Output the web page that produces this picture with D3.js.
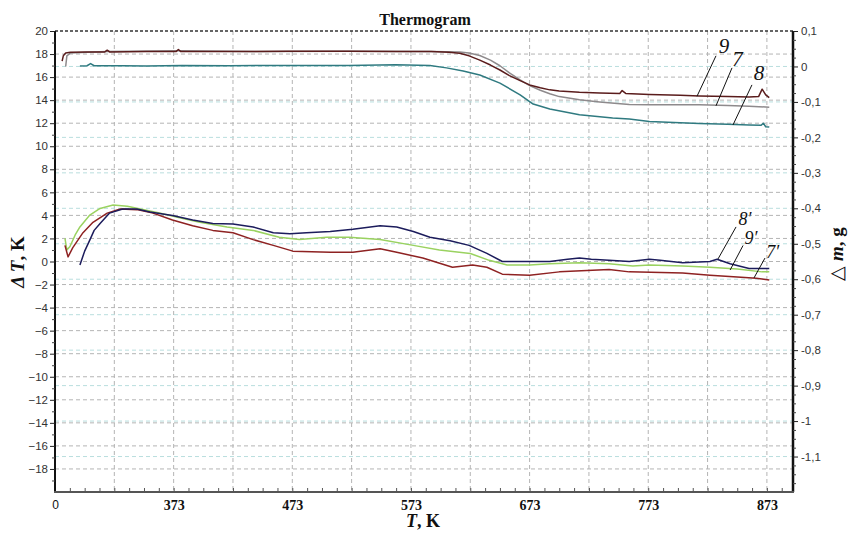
<!DOCTYPE html>
<html><head><meta charset="utf-8">
<script src="https://cdn.jsdelivr.net/npm/d3@7"></script>
<style>body{margin:0;background:#fff}svg{display:block}</style>
</head><body>
<svg id="chart" width="851" height="534"></svg>
<script>
// ---------- DATA ----------
const title = "Thermogram";
const xTickValues = [273, 373, 473, 573, 673, 773, 873];
const xTickLabels = ["0", "373", "473", "573", "673", "773", "873"];
const leftTickValues = [20, 18, 16, 14, 12, 10, 8, 6, 4, 2, 0, -2, -4, -6, -8, -10, -12, -14, -16, -18];
const rightTickValues = [0.1, 0, -0.1, -0.2, -0.3, -0.4, -0.5, -0.6, -0.7, -0.8, -0.9, -1, -1.1];

// mass curves (T, K ; Δm, g) — right axis
const mass9 = [[279,0.015],[280,0.030],[282,0.038],[286,0.040],[300,0.041],[315,0.041],[317,0.046],[319,0.041],[350,0.042],[375,0.042],[377,0.048],[379,0.042],[420,0.042],[470,0.043],[520,0.043],[560,0.042],[590,0.042],[605,0.040],[614,0.037],[622,0.030],[631,0.018],[640,0.004],[648,-0.010],[656,-0.026],[665,-0.040],[673,-0.052],[682,-0.060],[690,-0.066],[698,-0.069],[715,-0.073],[732,-0.075],[749,-0.076],[751,-0.068],[754,-0.076],[774,-0.079],[800,-0.081],[816,-0.083],[840,-0.085],[858,-0.086],[866,-0.085],[869,-0.064],[872,-0.080],[875,-0.088]];
const mass7 = [[282,0.000],[283,0.030],[286,0.038],[300,0.040],[317,0.042],[377,0.044],[450,0.042],[520,0.043],[590,0.042],[614,0.041],[622,0.038],[631,0.031],[640,0.018],[648,0.002],[656,-0.018],[665,-0.038],[673,-0.054],[682,-0.067],[690,-0.077],[698,-0.085],[715,-0.094],[732,-0.100],[757,-0.107],[774,-0.108],[800,-0.108],[816,-0.108],[840,-0.110],[858,-0.112],[875,-0.115]];
const mass8 = [[294,0.001],[300,0.002],[303,0.008],[306,0.002],[330,0.002],[350,0.001],[380,0.003],[420,0.002],[470,0.003],[520,0.003],[560,0.005],[589,0.003],[603,-0.004],[617,-0.013],[631,-0.024],[648,-0.047],[665,-0.080],[676,-0.106],[690,-0.120],[715,-0.136],[743,-0.145],[757,-0.148],[774,-0.155],[800,-0.159],[816,-0.161],[840,-0.163],[858,-0.165],[868,-0.166],[870,-0.160],[872,-0.170],[875,-0.171]];

// DTA curves (T, K ; ΔT, K) — left axis
const dta8 = [[294,-0.3],[298,0.9],[302.5,1.9],[306,2.7],[311,3.3],[319,4.2],[330,4.55],[342,4.55],[353,4.3],[372,4.0],[389,3.6],[406,3.3],[423,3.25],[440,3.0],[457,2.5],[471,2.4],[485,2.5],[505,2.6],[524,2.8],[547,3.1],[561,3.0],[575,2.6],[589,2.1],[606,1.8],[622,1.4],[637,0.7],[650,0.0],[660,0.0],[690,0.0],[705,0.2],[715,0.3],[725,0.2],[740,0.1],[757,0.0],[774,0.2],[783,0.1],[802,-0.1],[825,0.0],[831,0.2],[842,-0.2],[858,-0.6],[875,-0.6]];
const dta9 = [[281.4,2.0],[283,1.0],[285.6,1.3],[290,2.3],[294,3.0],[302,4.0],[311,4.6],[322,4.9],[334,4.8],[345,4.55],[361,4.2],[378,3.8],[395,3.4],[418,3.0],[440,2.7],[462,2.1],[479,1.9],[502,2.1],[521,2.1],[547,1.9],[575,1.4],[597,1.0],[623,0.7],[639,0.1],[654,-0.3],[673,-0.3],[690,-0.2],[715,-0.1],[740,-0.2],[760,-0.4],[774,-0.3],[802,-0.4],[825,-0.5],[848,-0.65],[869,-0.9],[875,-0.9]];
const dta7 = [[281.4,1.4],[284,0.4],[288,1.2],[296.6,2.5],[305,3.4],[317,4.2],[328,4.55],[342,4.5],[355.6,4.2],[372,3.6],[389,3.1],[406,2.7],[423,2.5],[440,1.9],[457,1.4],[473.5,0.9],[505,0.8],[524,0.8],[547,1.1],[561,0.8],[583,0.3],[608,-0.5],[625,-0.3],[637,-0.5],[650,-1.1],[673,-1.2],[698,-0.9],[740,-0.7],[757,-0.9],[802,-1.0],[825,-1.2],[848,-1.35],[864,-1.45],[875,-1.6]];

// curve labels: text, label point, leader start, leader end (data units)
const massLabels = [
  {text:"9", at:[836.8,0.038], from:[830.1,0.030], to:[814.1,-0.084]},
  {text:"7", at:[848.2,0.000], from:[843.6,-0.004], to:[830.1,-0.111]},
  {text:"8", at:[866.3,-0.038], from:[860.4,-0.052], to:[844.4,-0.165]}
];
const dtaLabels = [
  {text:"8\u2032", at:[854.5,3.15], from:[847,3.0], to:[831.8,0.22]},
  {text:"9\u2032", at:[859.6,1.55], from:[852.9,1.39], to:[842,-0.74]},
  {text:"7\u2032", at:[878,0.30], from:[871.4,0.30], to:[862.1,-1.43]}
];

// ---------- CHART ----------
const svg = d3.select("#chart");
const L = 55, R = 793, T = 31, B = 492;
const x = d3.scaleLinear().domain([273, 895]).range([L, R]);
const yL = d3.scaleLinear().domain([-20, 20]).range([B, T]);
const yR = d3.scaleLinear().domain([-1.2, 0.1]).range([B, T]);
const sans = "'Liberation Sans', Arial, sans-serif";
const serif = "'Liberation Serif', 'Times New Roman', serif";

const grid = svg.append("g");
d3.range(323, 895, 50).forEach(v => {
  grid.append("line").attr("x1", x(v)).attr("x2", x(v)).attr("y1", T).attr("y2", B)
    .attr("stroke", "#b4b4b4").attr("stroke-width", 1).attr("stroke-dasharray", "4,3");
});
rightTickValues.filter(v => v < 0.1).forEach(v => {
  grid.append("line").attr("x1", L).attr("x2", R).attr("y1", yR(v)).attr("y2", yR(v))
    .attr("stroke", "#b9dede").attr("stroke-width", 1).attr("stroke-dasharray", "4,3");
});
leftTickValues.filter(v => v < 20).forEach(v => {
  grid.append("line").attr("x1", L).attr("x2", R).attr("y1", yL(v)).attr("y2", yL(v))
    .attr("stroke", "#b4b4b4").attr("stroke-width", 1).attr("stroke-dasharray", "4,3");
});
grid.append("line").attr("x1", L).attr("x2", R).attr("y1", T).attr("y2", T)
  .attr("stroke", "#333").attr("stroke-width", 1.5).attr("stroke-dasharray", "3,2");

// curves
const lineL = d3.line().x(d => x(d[0])).y(d => yL(d[1]));
const lineR = d3.line().x(d => x(d[0])).y(d => yR(d[1]));
const curves = svg.append("g").attr("fill", "none").attr("stroke-linejoin", "round");
curves.append("path").datum(mass7).attr("d", lineR).attr("stroke", "#8e8a8c").attr("stroke-width", 1.5);
curves.append("path").datum(mass9).attr("d", lineR).attr("stroke", "#5a1c1c").attr("stroke-width", 1.5);
curves.append("path").datum(mass8).attr("d", lineR).attr("stroke", "#2f7a80").attr("stroke-width", 1.5);
curves.append("path").datum(dta9).attr("d", lineL).attr("stroke", "#9ad260").attr("stroke-width", 1.5);
curves.append("path").datum(dta7).attr("d", lineL).attr("stroke", "#8e2222").attr("stroke-width", 1.5);
curves.append("path").datum(dta8).attr("d", lineL).attr("stroke", "#1c1c5c").attr("stroke-width", 1.5);

// curve labels
function drawLabels(list, ys, size) {
  const g = svg.append("g");
  list.forEach(d => {
    g.append("line").attr("x1", x(d.from[0])).attr("y1", ys(d.from[1]))
      .attr("x2", x(d.to[0])).attr("y2", ys(d.to[1])).attr("stroke", "#111").attr("stroke-width", 1);
    g.append("text").attr("x", x(d.at[0])).attr("y", ys(d.at[1])).attr("text-anchor", "middle")
      .attr("font-family", serif).attr("font-style", "italic").attr("font-size", size).attr("fill", "#111").text(d.text);
  });
}
drawLabels(massLabels, yR, 21);
drawLabels(dtaLabels, yL, 18);

// axes lines
svg.append("line").attr("x1", L).attr("x2", L).attr("y1", T).attr("y2", B).attr("stroke", "#111").attr("stroke-width", 2);
svg.append("line").attr("x1", R).attr("x2", R).attr("y1", T).attr("y2", B).attr("stroke", "#111").attr("stroke-width", 2.5);
svg.append("line").attr("x1", L - 1).attr("x2", R + 1).attr("y1", B).attr("y2", B).attr("stroke", "#555").attr("stroke-width", 2);

// left axis
const gl = svg.append("g").attr("transform", `translate(${L},0)`)
  .call(d3.axisLeft(yL).tickValues(leftTickValues).tickSize(5).tickSizeOuter(0).tickPadding(2));
gl.select(".domain").remove();
gl.selectAll("text").attr("font-family", sans).attr("font-size", 11.5).attr("fill", "#333");
gl.selectAll(".tick line").attr("stroke", "#222");
const glm = svg.append("g").attr("transform", `translate(${L},0)`)
  .call(d3.axisLeft(yL).tickValues(d3.range(-19, 20, 2)).tickSize(3).tickFormat(""));
glm.select(".domain").remove();
glm.selectAll("line").attr("stroke", "#444");

// right axis
const fmtR = v => (Math.abs(v) < 1e-9 ? "0" : String(+v.toFixed(1)).replace(".", ","));
const gr = svg.append("g").attr("transform", `translate(${R},0)`)
  .call(d3.axisRight(yR).tickValues(rightTickValues).tickSize(5).tickPadding(3).tickFormat(fmtR));
gr.select(".domain").remove();
gr.selectAll("text").attr("font-family", sans).attr("font-size", 11.5).attr("fill", "#333");
gr.selectAll(".tick line").attr("stroke", "#222");
const grm = svg.append("g").attr("transform", `translate(${R},0)`)
  .call(d3.axisRight(yR).tickValues(d3.range(-1.175, 0.1, 0.025).filter(v => Math.abs(Math.round(v * 10) - v * 10) > 0.01)).tickSize(3).tickFormat(""));
grm.select(".domain").remove();
grm.selectAll("line").attr("stroke", "#444");

// bottom axis
const gb = svg.append("g").attr("transform", `translate(0,${B})`)
  .call(d3.axisBottom(x).tickValues(xTickValues).tickSize(0).tickPadding(8)
    .tickFormat((d, i) => xTickLabels[i]));
gb.select(".domain").remove();
gb.selectAll("text").attr("font-family", serif).attr("font-weight", "bold").attr("font-size", 14).attr("fill", "#111");
gb.selectAll("text").filter((d, i) => i === 0).attr("font-family", sans).attr("font-weight", "normal").attr("font-size", 12);
const gbm = svg.append("g").attr("transform", `translate(0,${B})`)
  .call(d3.axisTop(x).tickValues(d3.range(285.5, 895, 12.5)).tickSize(4).tickFormat(""));
gbm.select(".domain").remove();
gbm.selectAll("line").attr("stroke", "#555");

// title
svg.append("text").attr("x", 425).attr("y", 25).attr("text-anchor", "middle")
  .attr("font-family", serif).attr("font-weight", "bold").attr("font-size", 16).attr("fill", "#111").text(title);

// left axis title
const lt = svg.append("text").attr("transform", "translate(24,262) rotate(-90)").attr("text-anchor", "middle")
  .attr("font-family", serif).attr("font-weight", "bold").attr("font-size", 19).attr("fill", "#111");
lt.append("tspan").attr("font-style", "italic").text("\u0394 T");
lt.append("tspan").text(", K");

// right axis title
const rt = svg.append("text").attr("transform", "translate(843,254) rotate(-90)").attr("text-anchor", "middle")
  .attr("font-family", serif).attr("font-weight", "bold").attr("font-size", 19).attr("fill", "#111");
rt.append("tspan").attr("font-weight", "normal").text("\u25B3 ");
rt.append("tspan").attr("font-style", "italic").text("m");
rt.append("tspan").text(", g");

// bottom axis title
const bt = svg.append("text").attr("x", 423).attr("y", 527).attr("text-anchor", "middle")
  .attr("font-family", serif).attr("font-weight", "bold").attr("font-size", 18).attr("fill", "#111");
bt.append("tspan").attr("font-style", "italic").text("T");
bt.append("tspan").text(", K");
</script>
</body></html>
